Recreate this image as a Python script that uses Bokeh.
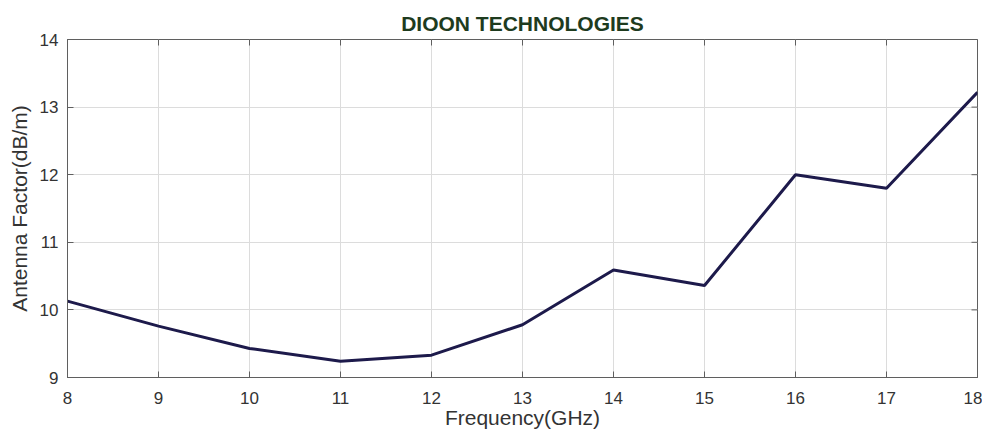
import math
from bokeh.plotting import figure
from bokeh.models import Range1d, FixedTicker
from bokeh.embed import file_html
from bokeh.resources import INLINE

freq_ghz = [8, 9, 10, 11, 12, 13, 14, 15, 16, 17, 18]
antenna_factor = [10.13, 9.76, 9.43, 9.24, 9.33, 9.78, 10.59, 10.36, 12.0, 11.8, 13.22]
x_ticks = [8, 9, 10, 11, 12, 13, 14, 15, 16, 17, 18]
y_ticks = [9, 10, 11, 12, 13, 14]
x_min, x_max = 8, 18
y_min, y_max = 9, 14

FONT = "Liberation Sans"
AX = "#5f5f5f"
TXT = "#333333"

p = figure(width=982, height=431, output_backend="svg", toolbar_location=None,
           x_range=Range1d(x_min, x_max), y_range=Range1d(y_min, y_max),
           min_border_left=67, min_border_right=5, min_border_top=39, min_border_bottom=54)

p.title.text = "DIOON TECHNOLOGIES"
p.title.align = "center"
p.title.text_color = "#1e3b1e"
p.title.text_font = FONT
p.title.text_font_size = "21px"
p.title.text_font_style = "bold"
p.title.offset = 0
p.title.standoff = 10

p.xgrid.ticker = FixedTicker(ticks=x_ticks)
p.ygrid.ticker = FixedTicker(ticks=y_ticks)
p.grid.grid_line_color = "#dcdcdc"
p.grid.grid_line_width = 1
p.outline_line_color = AX

# inward ticks on the top and right edges of the box (half of each mark is clipped by the frame)
p.scatter(x_ticks, [y_max] * len(x_ticks), marker="dash", angle=math.pi / 2, size=12,
          line_color=AX, line_width=1)
p.scatter([x_max] * len(y_ticks), y_ticks, marker="dash", size=12,
          line_color=AX, line_width=1)

p.line(freq_ghz, antenna_factor, line_color="#1d1a4b", line_width=3)

for ax in p.xaxis + p.yaxis:
    ax.axis_line_color = AX
    ax.major_tick_line_color = AX
    ax.major_tick_in = 6
    ax.major_tick_out = 0
    ax.minor_tick_line_color = None
    ax.major_label_text_font = FONT
    ax.major_label_text_font_size = "17px"
    ax.major_label_text_color = TXT
    ax.axis_label_text_font = FONT
    ax.axis_label_text_font_size = "21px"
    ax.axis_label_text_font_style = "normal"
    ax.axis_label_text_color = TXT

p.xaxis.ticker = FixedTicker(ticks=x_ticks)
p.yaxis.ticker = FixedTicker(ticks=y_ticks)
p.xaxis.axis_label = "Frequency(GHz)"
p.yaxis.axis_label = "Antenna Factor(dB/m)"
p.xaxis.major_label_standoff = 14
p.yaxis.major_label_standoff = 9
p.xaxis.axis_label_standoff = -1
p.yaxis.axis_label_standoff = 6

open("out.html", "w").write(file_html(p, INLINE))
